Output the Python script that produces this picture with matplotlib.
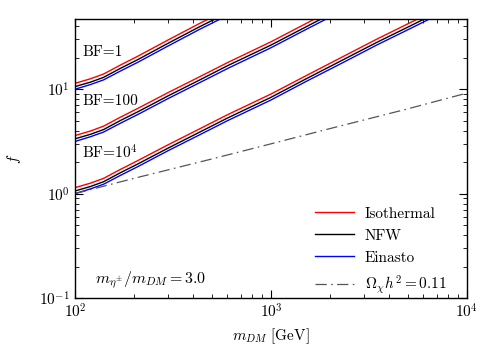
import matplotlib
matplotlib.use("Agg")
import matplotlib.pyplot as plt
import numpy as np

plt.rcParams['font.family'] = 'serif'
plt.rcParams['font.serif'] = ['cmr10', 'DejaVu Serif']
plt.rcParams['mathtext.fontset'] = 'cm'
plt.rcParams['axes.unicode_minus'] = False
plt.rcParams['axes.formatter.use_mathtext'] = True

# DM mass grid (GeV)
m_dm = [100, 120, 140, 170, 210, 300, 430, 600, 1000, 1500, 2300, 3500, 5200, 7500, 10000]

# BF = 1
iso_bf1 = [11.4, 12.6, 14.0, 17.0, 20.8, 29.8, 42.5, 58.0, 91.0, 134, 203, 305, 440, 620, 820]
nfw_bf1 = [10.6, 11.7, 13.0, 15.8, 19.3, 27.7, 39.5, 54.0, 84.7, 125, 189, 284, 409, 577, 763]
ein_bf1 = [10.0, 11.1, 12.3, 14.9, 18.2, 26.1, 37.3, 51.0, 79.9, 118, 178, 268, 386, 544, 719]

# BF = 100
iso_bf100 = [3.60, 3.98, 4.43, 5.38, 6.58, 9.33, 13.1, 18.0, 28.5, 42.4, 64.2, 96.4, 139, 196, 259]
nfw_bf100 = [3.35, 3.70, 4.11, 5.00, 6.10, 8.68, 12.2, 16.8, 26.5, 39.4, 59.8, 89.8, 129, 182, 241]
ein_bf100 = [3.16, 3.51, 3.89, 4.71, 5.75, 8.18, 11.5, 15.8, 25.0, 37.2, 56.3, 84.7, 122, 172, 227]

# BF = 10^4
iso_bf1e4 = [1.14, 1.26, 1.40, 1.70, 2.08, 2.95, 4.15, 5.70, 9.00, 13.4, 20.3, 30.5, 44.0, 62.0, 82.0]
nfw_bf1e4 = [1.06, 1.17, 1.30, 1.58, 1.93, 2.74, 3.86, 5.30, 8.37, 12.5, 18.9, 28.4, 40.9, 57.7, 76.3]
ein_bf1e4 = [1.00, 1.11, 1.23, 1.49, 1.82, 2.59, 3.64, 5.00, 7.89, 11.8, 17.8, 26.8, 38.6, 54.4, 71.9]

# relic density line
m_relic = [100, 200, 500, 1000, 2000, 5000, 10000]
f_relic = [1.0, 1.40, 2.15, 3.0, 4.2, 6.5, 9.2]

fig = plt.figure(figsize=(4.96, 3.48), dpi=100)
ax = fig.add_axes([0.151, 0.1437, 0.7905, 0.8013])

curves = [
    (iso_bf1, nfw_bf1, ein_bf1),
    (iso_bf100, nfw_bf100, ein_bf100),
    (iso_bf1e4, nfw_bf1e4, ein_bf1e4),
]
for i, (iso, nfw, ein) in enumerate(curves):
    ax.plot(m_dm, iso, color='red', lw=1.0, label='Isothermal' if i == 0 else None)
    ax.plot(m_dm, nfw, color='black', lw=1.0, label='NFW' if i == 0 else None)
    ax.plot(m_dm, ein, color='blue', lw=1.0, label='Einasto' if i == 0 else None)

ax.plot(m_relic, f_relic, color='#555555', lw=0.9, dashes=(9, 3.5, 1.3, 3.5),
        label=r'$\Omega_\chi h^2 = 0.11$')

ax.set_xscale('log')
ax.set_yscale('log')
ax.set_xlim(100, 10000)
ax.set_ylim(0.1, 47)

ax.tick_params(which='both', direction='in', top=True, right=True, labelsize=11)
ax.tick_params(which='major', length=6, width=0.8)
ax.tick_params(which='minor', length=3, width=0.6)
for s in ax.spines.values():
    s.set_linewidth(1.0)

ax.set_xlabel(r'$m_{DM}$ [GeV]', fontsize=11)
ax.set_ylabel(r'$f$', fontsize=11, labelpad=12)

ax.text(0.018, 0.868, 'BF=1', transform=ax.transAxes, fontsize=11)
ax.text(0.018, 0.692, 'BF=100', transform=ax.transAxes, fontsize=11)
ax.text(0.018, 0.498, r'BF=$10^4$', transform=ax.transAxes, fontsize=11)
ax.text(0.05, 0.05, r'$m_{\eta^{\pm}}/m_{DM} = 3.0$', transform=ax.transAxes, fontsize=11.5)

leg = ax.legend(loc='lower right', bbox_to_anchor=(0.972, -0.025), frameon=False,
                fontsize=11, handlelength=2.6, handletextpad=0.7, labelspacing=0.55,
                borderpad=0.1, borderaxespad=0.5)

fig.savefig('out.png', dpi=100)
